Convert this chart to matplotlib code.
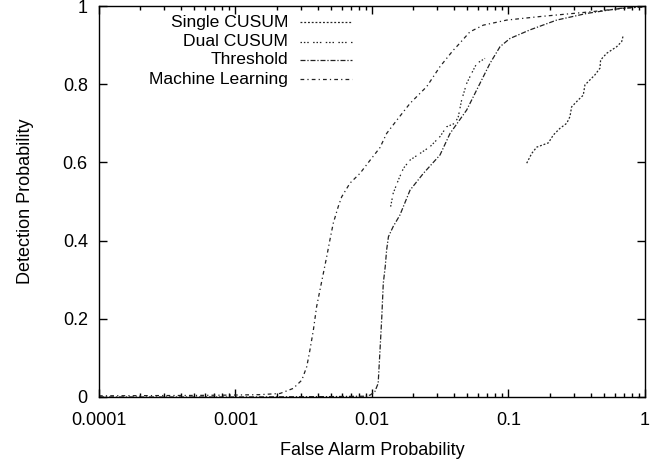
import matplotlib
matplotlib.use("Agg")
import matplotlib.pyplot as plt
from matplotlib.ticker import LogLocator, FixedLocator, FuncFormatter, NullFormatter

plt.rcParams['font.family'] = ['Liberation Sans', 'DejaVu Sans']
plt.rcParams['font.size'] = 13

# 数据: 误报概率 / 检测概率
single_x = [0.136, 0.148, 0.161, 0.196, 0.213, 0.238, 0.267, 0.282, 0.290, 0.325,
            0.353, 0.363, 0.395, 0.430, 0.468, 0.473, 0.524, 0.621, 0.675, 0.694]
single_y = [0.598, 0.623, 0.639, 0.650, 0.670, 0.687, 0.700, 0.717, 0.742, 0.760,
            0.772, 0.798, 0.811, 0.824, 0.841, 0.862, 0.879, 0.896, 0.909, 0.926]

dual_x = [0.0137, 0.0143, 0.0156, 0.0170, 0.0190, 0.0225, 0.0266, 0.0315, 0.0352,
          0.0405, 0.0429, 0.0454, 0.0494, 0.0537, 0.0585, 0.0673]
dual_y = [0.487, 0.521, 0.555, 0.585, 0.606, 0.623, 0.640, 0.666, 0.691,
          0.700, 0.717, 0.760, 0.802, 0.828, 0.853, 0.866]

thresh_x = [0.0001, 0.001, 0.005, 0.009, 0.0097, 0.0105, 0.0111, 0.01145, 0.0118,
            0.0121, 0.0125, 0.0128, 0.0132, 0.0143, 0.0160, 0.0190, 0.0238, 0.0315,
            0.0373, 0.0494, 0.0618, 0.0731, 0.0867, 0.1026, 0.1438, 0.2255, 0.374,
            0.657, 0.966]
thresh_y = [0.0, 0.0, 0.001, 0.002, 0.005, 0.014, 0.035, 0.120, 0.205,
            0.291, 0.333, 0.376, 0.410, 0.436, 0.465, 0.529, 0.572, 0.619,
            0.674, 0.734, 0.802, 0.853, 0.896, 0.917, 0.939, 0.964, 0.981,
            0.994, 0.998]

ml_x = [0.0001, 0.0005, 0.001, 0.0015, 0.00212, 0.00265, 0.00306, 0.00333, 0.00351,
        0.00372, 0.00393, 0.00416, 0.0044, 0.00466, 0.00492, 0.0052, 0.00566, 0.0060,
        0.0069, 0.00817, 0.00966, 0.01145, 0.0128, 0.0152, 0.0190, 0.0252, 0.0315,
        0.0394, 0.0417, 0.0522, 0.0653, 0.097, 0.170, 0.395, 0.69, 1.0]
ml_y = [0.003, 0.004, 0.005, 0.006, 0.009, 0.022, 0.043, 0.078, 0.120,
        0.171, 0.231, 0.274, 0.316, 0.359, 0.402, 0.444, 0.487, 0.512,
        0.547, 0.572, 0.605, 0.638, 0.674, 0.708, 0.751, 0.794, 0.845,
        0.887, 0.896, 0.934, 0.951, 0.964, 0.973, 0.985, 0.994, 0.998]

labels = ["Single CUSUM", "Dual CUSUM", "Threshold", "Machine Learning"]
styles = [(0, (1.5, 1.5)),
          (0, (1.2, 1.5, 1.2, 1.5, 1.2, 3.5)),
          (0, (4, 1.5, 1, 1.5)),
          (0, (3, 2.5, 1, 2.5))]

fig = plt.figure(figsize=(6.67, 4.62), dpi=100)
ax = fig.add_axes([0.1484, 0.1407, 0.8186, 0.8463])

series = [(single_x, single_y), (dual_x, dual_y), (thresh_x, thresh_y), (ml_x, ml_y)]
for (xs, ys), ls in zip(series, styles):
    ax.plot(xs, ys, color='#222222', lw=0.9, linestyle=ls)

ax.set_xscale('log')
ax.set_xlim(0.0001, 1)
ax.set_ylim(0, 1)
ax.xaxis.set_major_locator(LogLocator(base=10, numticks=10))
ax.xaxis.set_minor_locator(LogLocator(base=10, subs=range(2, 10), numticks=20))
ax.xaxis.set_major_formatter(FuncFormatter(lambda v, p: '%g' % v))
ax.xaxis.set_minor_formatter(NullFormatter())
ax.yaxis.set_major_locator(FixedLocator([0, 0.2, 0.4, 0.6, 0.8, 1.0]))
ax.yaxis.set_major_formatter(FuncFormatter(lambda v, p: '%g' % v))

ax.tick_params(which='both', direction='in', top=True, right=True, width=1)
ax.tick_params(which='major', length=6)
ax.tick_params(which='minor', length=3)
ax.tick_params(axis='x', which='major', pad=11)
ax.tick_params(axis='y', which='major', pad=8)
for s in ax.spines.values():
    s.set_linewidth(1)

ax.set_xlabel("False Alarm Probability", labelpad=9)
ax.set_ylabel("Detection Probability", labelpad=21)

# 图例 (gnuplot 风格: 文字右对齐, 线样在右侧)
row_y = [0.958, 0.909, 0.862, 0.813]
for yy, lab, ls in zip(row_y, labels, styles):
    ax.text(0.346, yy, lab, transform=ax.transAxes, ha='right', va='center',
            fontsize=12.6)
    ax.plot([0.368, 0.463], [yy, yy], transform=ax.transAxes,
            color='#222222', lw=0.9, linestyle=ls)

fig.savefig("out.png", dpi=100)
